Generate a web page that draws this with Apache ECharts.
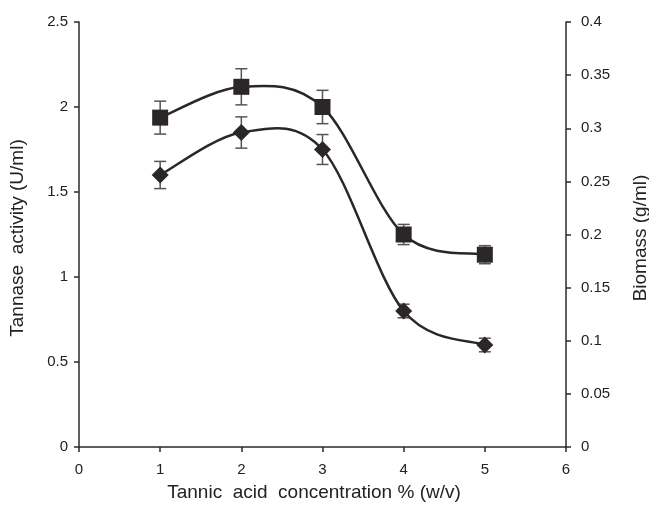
<!DOCTYPE html>
<html>
<head>
<meta charset="utf-8">
<script src="https://cdn.jsdelivr.net/npm/echarts@6/dist/echarts.min.js"></script>
<style>
  html, body { margin: 0; padding: 0; background: #fff; }
  #chart { width: 649px; height: 505px; }
</style>
</head>
<body>
<div id="chart"></div>
<script>
var xValues = [1, 2, 3, 4, 5];
// tannase activity (U/ml), left axis
var activity = [1.6, 1.85, 1.75, 0.8, 0.6];
var activityErr = [0.08, 0.092, 0.088, 0.04, 0.04];
// biomass (g/ml), right axis
var biomass = [0.31, 0.339, 0.32, 0.2, 0.181];
var biomassErr = [0.0155, 0.017, 0.0157, 0.0095, 0.0085];

var font = 'Liberation Sans, Arial, sans-serif';
var axisColor = '#2a2a2a';
var lineColor = '#2b2727';

function pairs(vals) {
  return xValues.map(function (x, i) { return [x, vals[i]]; });
}
function errData(vals, errs) {
  return xValues.map(function (x, i) { return [x, vals[i] - errs[i], vals[i] + errs[i]]; });
}
function renderErr(params, api) {
  var x = api.value(0);
  var lo = api.coord([x, api.value(1)]);
  var hi = api.coord([x, api.value(2)]);
  var w = 6;
  var st = { stroke: '#555', lineWidth: 1.5 };
  return {
    type: 'group',
    children: [
      { type: 'line', shape: { x1: lo[0], y1: lo[1], x2: hi[0], y2: hi[1] }, style: st },
      { type: 'line', shape: { x1: lo[0] - w, y1: lo[1], x2: lo[0] + w, y2: lo[1] }, style: st },
      { type: 'line', shape: { x1: hi[0] - w, y1: hi[1], x2: hi[0] + w, y2: hi[1] }, style: st }
    ]
  };
}
// excel-like smoothed line: catmull-rom segment from point i to i+1
function smoothRenderer(vals) {
  return function (params, api) {
    var i = params.dataIndex;
    var n = xValues.length;
    if (i >= n - 1) return null;
    var p = function (k) {
      k = Math.max(0, Math.min(n - 1, k));
      return api.coord([xValues[k], vals[k]]);
    };
    var p0 = p(i - 1), p1 = p(i), p2 = p(i + 1), p3 = p(i + 2);
    var t = 1 / 6;
    return {
      type: 'bezierCurve',
      shape: {
        x1: p1[0], y1: p1[1], x2: p2[0], y2: p2[1],
        cpx1: p1[0] + (p2[0] - p0[0]) * t, cpy1: p1[1] + (p2[1] - p0[1]) * t,
        cpx2: p2[0] - (p3[0] - p1[0]) * t, cpy2: p2[1] - (p3[1] - p1[1]) * t
      },
      style: { stroke: lineColor, lineWidth: 2.5, fill: null }
    };
  };
}

var chart = echarts.init(document.getElementById('chart'));

var yAxisBase = {
  type: 'value',
  splitLine: { show: false },
  axisLine: { show: true, lineStyle: { color: axisColor, width: 1.5 } },
  axisTick: { show: true, inside: false, length: 5, lineStyle: { color: axisColor, width: 1.5 } },
  axisLabel: { color: '#222', fontSize: 15, fontFamily: font }
};

var option = {
  animation: false,
  backgroundColor: '#fff',
  grid: { left: 79, right: 83, top: 22, bottom: 58, containLabel: false },
  xAxis: {
    type: 'value',
    min: 0, max: 6, interval: 1,
    splitLine: { show: false },
    axisLine: { lineStyle: { color: axisColor, width: 1.5 }, onZero: false },
    axisTick: { length: 5, lineStyle: { color: axisColor, width: 1.5 } },
    axisLabel: { color: '#222', fontSize: 15, fontFamily: font, margin: 15 }
  },
  yAxis: [
    Object.assign({}, yAxisBase, {
      position: 'left', min: 0, max: 2.5, interval: 0.5,
      axisLabel: Object.assign({}, yAxisBase.axisLabel, { margin: 11 })
    }),
    Object.assign({}, yAxisBase, {
      position: 'right', min: 0, max: 0.4, interval: 0.05,
      axisLabel: Object.assign({}, yAxisBase.axisLabel, { margin: 15 })
    })
  ],
  graphic: [
    { type: 'text', rotation: Math.PI / 2, x: 18, y: 238,
      style: { text: 'Tannase  activity (U/ml)', fill: '#222', font: '19px ' + font, align: 'center', verticalAlign: 'middle' } },
    { type: 'text', rotation: Math.PI / 2, x: 641, y: 238,
      style: { text: 'Biomass (g/ml)', fill: '#222', font: '19px ' + font, align: 'center', verticalAlign: 'middle' } },
    { type: 'text', x: 314, y: 493,
      style: { text: 'Tannic  acid  concentration % (w/v)', fill: '#222', font: '19px ' + font, align: 'center', verticalAlign: 'middle' } }
  ],
  series: [
    { type: 'custom', yAxisIndex: 0, z: 1, renderItem: renderErr, data: errData(activity, activityErr) },
    { type: 'custom', yAxisIndex: 1, z: 1, renderItem: renderErr, data: errData(biomass, biomassErr) },
    { type: 'custom', yAxisIndex: 0, z: 2, renderItem: smoothRenderer(activity), data: pairs(activity) },
    { type: 'custom', yAxisIndex: 1, z: 2, renderItem: smoothRenderer(biomass), data: pairs(biomass) },
    {
      name: 'Tannase activity', type: 'scatter', yAxisIndex: 0, z: 3,
      symbol: 'diamond', symbolSize: 17,
      itemStyle: { color: lineColor, opacity: 1 },
      data: pairs(activity)
    },
    {
      name: 'Biomass', type: 'scatter', yAxisIndex: 1, z: 3,
      symbol: 'rect', symbolSize: 16,
      itemStyle: { color: lineColor, opacity: 1 },
      data: pairs(biomass)
    }
  ]
};

chart.setOption(option);
window.addEventListener('resize', function () { chart.resize(); });
</script>
</body>
</html>
